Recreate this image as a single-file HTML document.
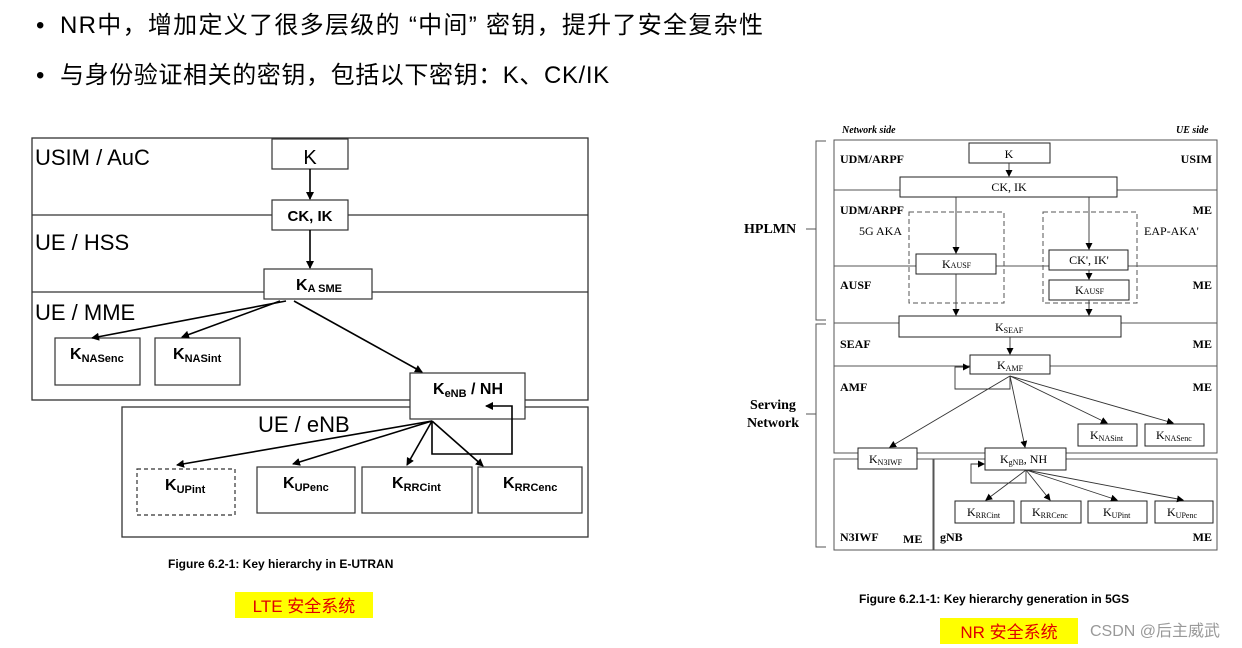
<!DOCTYPE html>
<html><head><meta charset="utf-8"><style>
html,body{margin:0;padding:0;background:#fff;}
svg{display:block}
</style></head><body>
<svg width="1242" height="648" xmlns="http://www.w3.org/2000/svg">
<defs>
<marker id="a" markerWidth="8" markerHeight="8" refX="7" refY="4" orient="auto" markerUnits="userSpaceOnUse"><path d="M0,0 L8,4 L0,8 z" fill="#000"/></marker>
<marker id="b" markerWidth="7" markerHeight="7" refX="6" refY="3.5" orient="auto" markerUnits="userSpaceOnUse"><path d="M0,0 L7,3.5 L0,7 z" fill="#000"/></marker>
</defs>
<g font-family="Liberation Sans, Noto Sans CJK SC, sans-serif" font-size="24" fill="#000">
<text x="36" y="33">•</text><text x="60" y="33" letter-spacing="1.3">NR中，增加定义了很多层级的 “中间” 密钥，提升了安全复杂性</text>
<text x="36" y="83">•</text><text x="60" y="83" letter-spacing="0.6">与身份验证相关的密钥，包括以下密钥：K、CK/IK</text>
</g>
<!-- LTE -->
<g stroke="#333" stroke-width="1.3" fill="none">
<rect x="32" y="138" width="556" height="262"/>
<line x1="32" y1="215" x2="588" y2="215"/>
<line x1="32" y1="292" x2="588" y2="292"/>
<rect x="122" y="407" width="466" height="130" fill="#fff"/>
</g>
<g stroke="#333" stroke-width="1.2" fill="#fff">
<rect x="272" y="139" width="76" height="30"/>
<rect x="272" y="200" width="76" height="30"/>
<rect x="264" y="269" width="108" height="30"/>
<rect x="55" y="338" width="85" height="47"/>
<rect x="155" y="338" width="85" height="47"/>
<rect x="410" y="373" width="115" height="46"/>
<rect x="137" y="469" width="98" height="46" stroke-dasharray="4,3"/>
<rect x="257" y="467" width="98" height="46"/>
<rect x="362" y="467" width="110" height="46"/>
<rect x="478" y="467" width="104" height="46"/>
</g>
<g stroke="#000" stroke-width="1.6" fill="none" marker-end="url(#a)">
<line x1="310" y1="169" x2="310" y2="199"/>
<line x1="310" y1="230" x2="310" y2="268"/>
<line x1="286" y1="301" x2="92" y2="338"/>
<line x1="280" y1="301" x2="182" y2="337"/>
<line x1="294" y1="301" x2="422" y2="372"/>
<line x1="432" y1="421" x2="177" y2="465"/>
<line x1="432" y1="421" x2="293" y2="464"/>
<line x1="432" y1="421" x2="407" y2="465"/>
<line x1="432" y1="421" x2="483" y2="466"/>
<polyline points="432,421 432,454 512,454 512,406 486,406"/>
</g>
<g font-family="Liberation Sans, sans-serif" fill="#000">
<text x="35" y="165" font-size="22">USIM / AuC</text>
<text x="35" y="250" font-size="22">UE / HSS</text>
<text x="35" y="320" font-size="22">UE / MME</text>
<text x="258" y="432" font-size="22">UE / eNB</text>
<text x="310" y="164" font-size="20" text-anchor="middle">K</text>
<text x="310" y="221" font-size="15" font-weight="bold" text-anchor="middle">CK, IK</text>
<text x="296" y="290" font-size="16" font-weight="bold">K<tspan font-size="11" dy="2">A SME</tspan></text>
<text x="70" y="359" font-size="16" font-weight="bold">K<tspan font-size="11" dy="3">NASenc</tspan></text>
<text x="173" y="359" font-size="16" font-weight="bold">K<tspan font-size="11" dy="3">NASint</tspan></text>
<text x="433" y="394" font-size="16" font-weight="bold">K<tspan font-size="11" dy="3">eNB</tspan><tspan dy="-3"> / NH</tspan></text>
<text x="165" y="490" font-size="16" font-weight="bold">K<tspan font-size="11" dy="3">UPint</tspan></text>
<text x="283" y="488" font-size="16" font-weight="bold">K<tspan font-size="11" dy="3">UPenc</tspan></text>
<text x="392" y="488" font-size="16" font-weight="bold">K<tspan font-size="11" dy="3">RRCint</tspan></text>
<text x="503" y="488" font-size="16" font-weight="bold">K<tspan font-size="11" dy="3">RRCenc</tspan></text>
<text x="168" y="568" font-size="12" font-weight="bold">Figure 6.2-1: Key hierarchy in E-UTRAN</text>
<text x="859" y="603" font-size="12" font-weight="bold">Figure 6.2.1-1: Key hierarchy generation in 5GS</text>
</g>
<rect x="235" y="592" width="138" height="26" fill="#ffff00"/>
<text x="304" y="612" font-family="Liberation Sans, Noto Sans CJK SC, sans-serif" font-size="17" fill="#e00000" text-anchor="middle">LTE 安全系统</text>
<rect x="940" y="618" width="138" height="26" fill="#ffff00"/>
<text x="1009" y="638" font-family="Liberation Sans, Noto Sans CJK SC, sans-serif" font-size="17" fill="#e00000" text-anchor="middle">NR 安全系统</text>
<text x="1090" y="636" font-family="Liberation Sans, Noto Sans CJK SC, sans-serif" font-size="16" fill="#999">CSDN @后主威武</text>
<!-- NR -->
<g stroke="#555" stroke-width="1" fill="none">
<rect x="834" y="140" width="383" height="313"/>
<line x1="834" y1="190" x2="1217" y2="190"/>
<line x1="834" y1="266" x2="1217" y2="266"/>
<line x1="834" y1="323" x2="1217" y2="323"/>
<line x1="834" y1="366" x2="1217" y2="366"/>
<rect x="834" y="459" width="99" height="91"/>
<rect x="934" y="459" width="283" height="91"/>
<polyline points="826,141 816,141 816,320 826,320"/>
<polyline points="826,324 816,324 816,547 826,547"/>
<line x1="806" y1="229" x2="816" y2="229"/>
<line x1="806" y1="414" x2="816" y2="414"/>
<rect x="909" y="212" width="95" height="91" stroke-dasharray="5,3"/>
<rect x="1043" y="212" width="94" height="91" stroke-dasharray="5,3"/>
</g>
<g stroke="#222" stroke-width="1" fill="#fff">
<rect x="969" y="143" width="81" height="20"/>
<rect x="900" y="177" width="217" height="20"/>
<rect x="916" y="254" width="80" height="20"/>
<rect x="1049" y="250" width="79" height="20"/>
<rect x="1049" y="280" width="80" height="20"/>
<rect x="899" y="316" width="222" height="21"/>
<rect x="970" y="355" width="80" height="19"/>
<rect x="1078" y="424" width="59" height="22"/>
<rect x="1145" y="424" width="59" height="22"/>
<rect x="858" y="448" width="59" height="21"/>
<rect x="985" y="448" width="81" height="22"/>
<rect x="955" y="501" width="59" height="22"/>
<rect x="1021" y="501" width="60" height="22"/>
<rect x="1088" y="501" width="59" height="22"/>
<rect x="1155" y="501" width="58" height="22"/>
</g>
<g stroke="#333" stroke-width="0.9" fill="none" marker-end="url(#b)">
<line x1="1009" y1="163" x2="1009" y2="176"/>
<line x1="956" y1="197" x2="956" y2="253"/>
<line x1="1089" y1="197" x2="1089" y2="249"/>
<line x1="1089" y1="270" x2="1089" y2="279"/>
<line x1="956" y1="274" x2="956" y2="315"/>
<line x1="1089" y1="300" x2="1089" y2="315"/>
<line x1="1010" y1="337" x2="1010" y2="354"/>
<line x1="1010" y1="376" x2="890" y2="447"/>
<line x1="1010" y1="376" x2="1025" y2="447"/>
<line x1="1010" y1="376" x2="1107" y2="423"/>
<line x1="1010" y1="376" x2="1173" y2="423"/>
<polyline points="1010,376 1010,389 955,389 955,367 969,367"/>
<line x1="1026" y1="470" x2="986" y2="500"/>
<line x1="1026" y1="470" x2="1050" y2="500"/>
<line x1="1026" y1="470" x2="1117" y2="500"/>
<line x1="1026" y1="470" x2="1183" y2="500"/>
<polyline points="1026,470 1026,483 971,483 971,464 984,464"/>
</g>
<g font-family="Liberation Serif, serif" fill="#000">
<text x="842" y="133" font-size="10" font-style="italic" font-weight="bold">Network side</text>
<text x="1176" y="133" font-size="10" font-style="italic" font-weight="bold">UE side</text>
<g font-size="12" font-weight="bold">
<text x="840" y="163">UDM/ARPF</text><text x="1212" y="163" text-anchor="end">USIM</text>
<text x="840" y="214">UDM/ARPF</text><text x="1212" y="214" text-anchor="end">ME</text>
<text x="840" y="289">AUSF</text><text x="1212" y="289" text-anchor="end">ME</text>
<text x="840" y="348">SEAF</text><text x="1212" y="348" text-anchor="end">ME</text>
<text x="840" y="391">AMF</text><text x="1212" y="391" text-anchor="end">ME</text>
<text x="840" y="541">N3IWF</text><text x="903" y="543">ME</text>
<text x="940" y="541">gNB</text><text x="1212" y="541" text-anchor="end">ME</text>
<text x="744" y="233" font-size="14">HPLMN</text>
<text x="773" y="409" font-size="14" text-anchor="middle">Serving</text>
<text x="773" y="427" font-size="14" text-anchor="middle">Network</text>
</g>
<g font-size="12">
<text x="859" y="235">5G AKA</text>
<text x="1144" y="235">EAP-AKA'</text>
<text x="1009" y="158" text-anchor="middle">K</text>
<text x="1009" y="191" text-anchor="middle">CK, IK</text>
<text x="942" y="268">K<tspan font-size="8">AUSF</tspan></text>
<text x="1089" y="264" text-anchor="middle">CK', IK'</text>
<text x="1075" y="294">K<tspan font-size="8">AUSF</tspan></text>
<text x="995" y="331">K<tspan font-size="8" dy="2">SEAF</tspan></text>
<text x="997" y="369">K<tspan font-size="8" dy="2">AMF</tspan></text>
<text x="1090" y="439">K<tspan font-size="8" dy="2">NASint</tspan></text>
<text x="1156" y="439">K<tspan font-size="8" dy="2">NASenc</tspan></text>
<text x="869" y="463">K<tspan font-size="8" dy="2">N3IWF</tspan></text>
<text x="1000" y="463">K<tspan font-size="8" dy="2">gNB</tspan><tspan dy="-2">, NH</tspan></text>
<text x="967" y="516">K<tspan font-size="8" dy="2">RRCint</tspan></text>
<text x="1032" y="516">K<tspan font-size="8" dy="2">RRCenc</tspan></text>
<text x="1103" y="516">K<tspan font-size="8" dy="2">UPint</tspan></text>
<text x="1167" y="516">K<tspan font-size="8" dy="2">UPenc</tspan></text>
</g>
</g>
</svg>
</body></html>
